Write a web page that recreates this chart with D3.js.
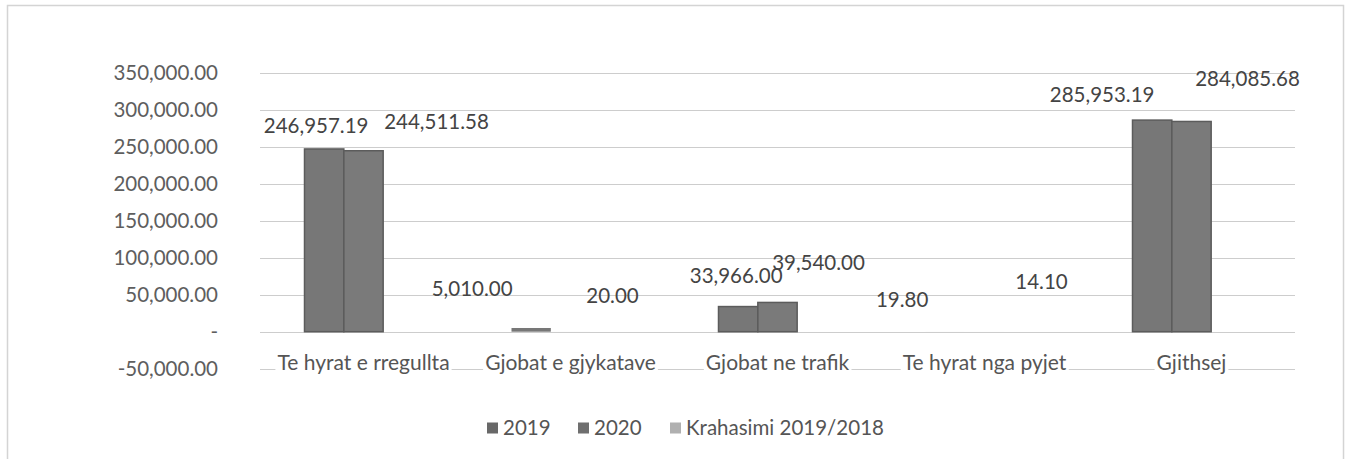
<!DOCTYPE html>
<html>
<head>
<meta charset="utf-8">
<script src="https://cdn.jsdelivr.net/npm/d3@7"></script>
<style>
  body { margin: 0; background: #fff; }
  svg { display: block; font-family: Lato, "Open Sans", sans-serif; }
</style>
</head>
<body>
<svg width="1351" height="459"></svg>
<script>
// chart values
var categories = ["Te hyrat e rregullta", "Gjobat e gjykatave", "Gjobat ne trafik", "Te hyrat nga pyjet", "Gjithsej"];
var seriesNames = ["2019", "2020", "Krahasimi 2019/2018"];
var values2019 = [246957.19, 5010.00, 33966.00, 19.80, 285953.19];
var values2020 = [244511.58, 20.00, 39540.00, 14.10, 284085.68];
var valuesRatio = [0.99, 0.00, 1.16, 0.71, 0.99];
var yTicks = [-50000, 0, 50000, 100000, 150000, 200000, 250000, 300000, 350000];

// the labels in the picture were dragged by hand, so nudge them (dx, dy from bar top centre)
var labelNudge2019 = [[-8, -23], [-59, -39], [-2, -31], [-43, -32], [-50, -25]];
var labelNudge2020 = [[73, -29], [42, -36], [41, -40], [57, -50], [56, -43]];

var svg = d3.select("svg"),
  margin = {top: 73, right: 56, bottom: 90, left: 260},
  width = 1351 - margin.left - margin.right,
  g = svg.append("g");

// scan frame
svg.append("rect")
  .attr("x", 7.5).attr("y", 5.5)
  .attr("width", 1336).attr("height", 460)
  .attr("fill", "none")
  .attr("stroke", "#d4d4d4")
  .attr("stroke-width", 1.5);

var x0 = d3.scaleBand()
  .domain(categories)
  .range([margin.left, margin.left + width]);

var groupW = 118;
var x1 = d3.scaleBand()
  .domain(seriesNames)
  .range([0, groupW]);

var y = d3.scaleLinear()
  .domain([-50000, 350000])
  .range([368.7, 72.7]);

// plain hyphen for the minus sign, like the original
var loc = d3.formatLocale({decimal: ".", thousands: ",", grouping: [3], currency: ["", ""], minus: "-"});
var fmt = loc.format(",.2f");
function tickFmt(v) { return v === 0 ? "-" : fmt(v); }

// gridlines
g.selectAll("line.grid")
  .data(yTicks).enter().append("line")
  .attr("class", "grid")
  .attr("x1", margin.left).attr("x2", margin.left + width)
  .attr("y1", function(d) { return Math.round(y(d)) + 0.5; })
  .attr("y2", function(d) { return Math.round(y(d)) + 0.5; })
  .attr("stroke", "#cdcdcd")
  .attr("stroke-width", 1.2);

// y axis labels
var yAxis = d3.axisLeft(y).tickValues(yTicks).tickFormat(tickFmt).tickSize(0).tickPadding(0);
var ya = g.append("g")
  .attr("transform", "translate(218,0)")
  .call(yAxis);
ya.select(".domain").remove();
ya.selectAll("text")
  .attr("fill", "#5e5e5e")
  .style("font-size", "20.5px")
  .style("font-family", "Lato, 'Open Sans', sans-serif");

// bars
var rows = categories.map(function(c, i) {
  return {cat: c, i: i, vals: [values2019[i], values2020[i], valuesRatio[i]]};
});
var fills = ["#777", "#7a7a7a", "#a8a8a8"];

var grp = g.selectAll("g.grp")
  .data(rows).enter().append("g")
  .attr("class", "grp")
  .attr("transform", function(d) {
    return "translate(" + (x0(d.cat) + x0.bandwidth() / 2 - groupW / 2) + ",0)";
  });

grp.selectAll("rect")
  .data(function(d) { return d.vals.map(function(v, k) { return {k: k, v: v}; }); })
  .enter().append("rect")
  .attr("x", function(d) { return x1(seriesNames[d.k]); })
  .attr("width", x1.bandwidth())
  .attr("y", function(d) { return Math.min(y(d.v), y(0)); })
  .attr("height", function(d) { return Math.abs(y(d.v) - y(0)); })
  .attr("fill", function(d) { return fills[d.k]; })
  .attr("stroke", function(d) { return d.v > 20000 ? "#5c5c5c" : "none"; })
  .attr("stroke-width", 1.5);

// category labels sitting on the bottom gridline
var cat = g.selectAll("g.cat")
  .data(categories).enter().append("g")
  .attr("class", "cat")
  .attr("transform", function(d) { return "translate(" + (x0(d) + x0.bandwidth() / 2) + ",363)"; });
cat.append("text")
  .attr("text-anchor", "middle")
  .attr("dy", "0.35em")
  .attr("fill", "#555")
  .style("font-size", "21px")
  .text(function(d) { return d; })
  .each(function() {
    var b = this.getBBox();
    d3.select(this.parentNode).insert("rect", "text")
      .attr("x", b.x - 2).attr("y", b.y)
      .attr("width", b.width + 4).attr("height", b.height - 3)
      .attr("fill", "#fff");
  });

// data labels
function addLabels(vals, nudge, k) {
  g.selectAll("text.lab" + k)
    .data(vals).enter().append("text")
    .attr("class", "lab" + k)
    .attr("text-anchor", "middle")
    .attr("dy", "0.35em")
    .attr("x", function(d, i) {
      return x0(categories[i]) + x0.bandwidth() / 2 - groupW / 2 + x1(seriesNames[k]) + x1.bandwidth() / 2 + nudge[i][0];
    })
    .attr("y", function(d, i) { return y(d) + nudge[i][1]; })
    .attr("fill", "#444")
    .style("font-size", "20.5px")
    .text(function(d) { return fmt(d); });
}
addLabels(values2019, labelNudge2019, 0);
addLabels(values2020, labelNudge2020, 1);

// legend
var legColors = ["#686868", "#6f6f6f", "#b0b0b0"];
var legX = [487, 578, 670];
var leg = svg.selectAll("g.leg")
  .data(seriesNames).enter().append("g")
  .attr("class", "leg")
  .attr("transform", function(d, i) { return "translate(" + legX[i] + ",428)"; });
leg.append("rect")
  .attr("x", 0).attr("y", -5.5)
  .attr("width", 11).attr("height", 11)
  .attr("fill", function(d, i) { return legColors[i]; });
leg.append("text")
  .attr("x", 16)
  .attr("dy", "0.35em")
  .attr("fill", "#555")
  .style("font-size", "20.5px")
  .text(function(d) { return d; });
</script>
</body>
</html>
